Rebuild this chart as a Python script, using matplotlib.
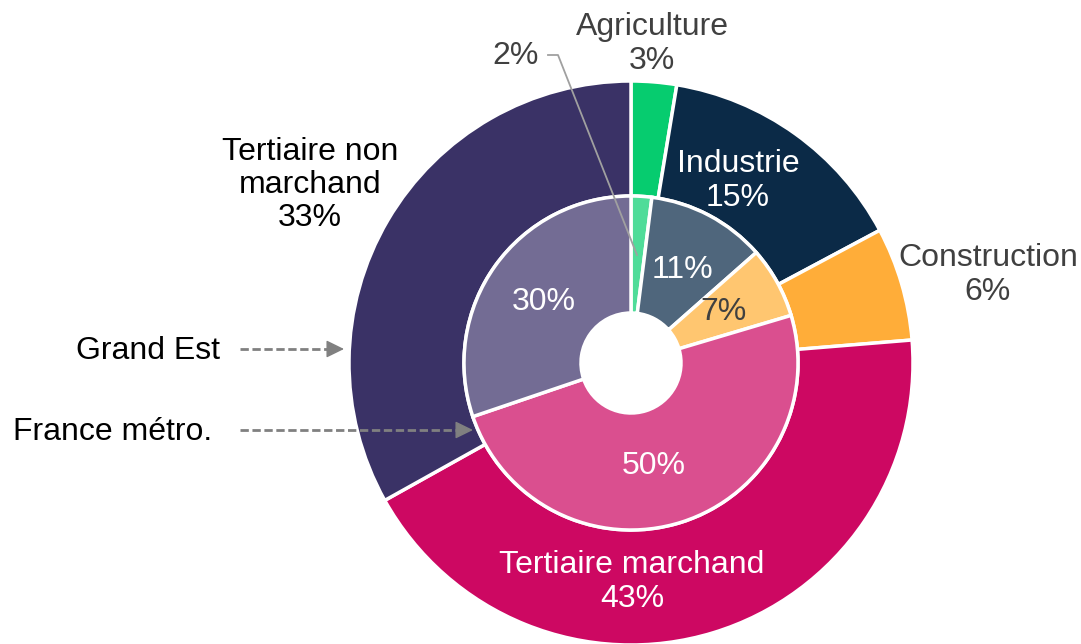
import matplotlib.pyplot as plt

plt.rcParams['font.family'] = ['Liberation Sans', 'DejaVu Sans']

# Data: Grand Est (outer ring) and France metro (inner ring), in %
sectors = ["Agriculture", "Industrie", "Construction", "Tertiaire marchand", "Tertiaire non marchand"]
grand_est = [2.6, 14.6, 6.5, 43.2, 33.1]
france = [2.0, 11.5, 6.9, 49.4, 30.2]
grand_est_lbl = ["3%", "15%", "6%", "43%", "33%"]
france_lbl = ["2%", "11%", "7%", "50%", "30%"]

outer_colors = ["#06CC6F", "#0B2A47", "#FFAD39", "#CD0862", "#3A3266"]
inner_colors = ["#4FDC99", "#4F667C", "#FFC670", "#DA4F8F", "#736C94"]

W, H = 1081, 644
fig = plt.figure(figsize=(W / 100, H / 100), dpi=100)
ax = fig.add_axes([0, 0, 1, 1])

cx, cy = 631, H - 363
r_out, r_mid, r_in = 282, 167, 50

ax.pie(grand_est, radius=r_out, center=(cx, cy), startangle=90, counterclock=False,
       colors=outer_colors, wedgeprops=dict(width=r_out - r_mid, edgecolor="white", linewidth=2.5),
       frame=True)
ax.pie(france, radius=r_mid, center=(cx, cy), startangle=90, counterclock=False,
       colors=inner_colors, wedgeprops=dict(width=r_mid - r_in, edgecolor="white", linewidth=2.5),
       frame=True)
ax.set_xlim(0, W)
ax.set_ylim(0, H)
ax.axis("off")

fs = 23
gray = "#404040"

def txt(x, y, s, color, **kw):
    ax.text(x, H - y, s, color=color, fontsize=fs, ha="center", va="center",
            linespacing=1.15, **kw)

# outer labels
txt(652, 44, f"{sectors[0]}\n{grand_est_lbl[0]}", gray)
txt(738, 181, f"{sectors[1]}\n{grand_est_lbl[1]}", "white")
txt(988, 275, f"{sectors[2]}\n{grand_est_lbl[2]}", gray)
txt(632, 582, f"{sectors[3]}\n{grand_est_lbl[3]}", "white")
txt(310, 185, "Tertiaire non\nmarchand\n" + grand_est_lbl[4], "black")

# inner labels
txt(516, 56, france_lbl[0], gray)
txt(682, 270, france_lbl[1], "white")
txt(724, 312, france_lbl[2], gray)
txt(654, 466, france_lbl[3], "white")
txt(544, 302, france_lbl[4], "white")

# leader line for 2%
ax.plot([548, 558, 637], [H - 55, H - 55, H - 255], color="#A0A0A0", lw=1.3)

# series arrows: dashed shaft + solid head
ax.text(220, H - 351, "Grand Est", fontsize=fs, ha="right", va="center", color="black")
ax.text(212, H - 432, "France métro.", fontsize=fs, ha="right", va="center", color="black")
for y0, x1 in [(349, 344), (430, 473)]:
    ax.plot([240, x1 - 12], [H - y0, H - y0], color="#808080", lw=2,
            linestyle=(0, (3, 1.3)))
    ax.annotate("", xy=(x1, H - y0), xytext=(x1 - 16, H - y0),
                arrowprops=dict(arrowstyle="-|>,head_length=0.55,head_width=0.27",
                                color="#808080", lw=1, shrinkA=0, shrinkB=0,
                                mutation_scale=20))

fig.savefig("out.png", dpi=100)
